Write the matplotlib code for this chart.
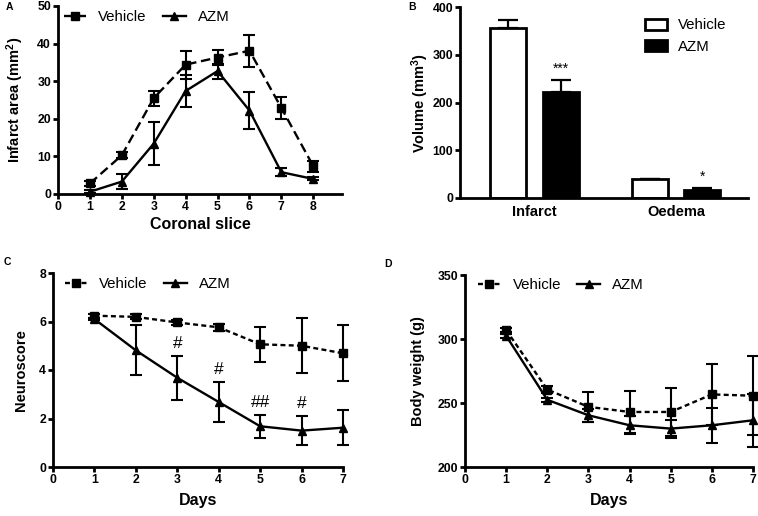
import matplotlib
matplotlib.use("Agg")
import matplotlib.pyplot as plt
import numpy as np

plt.rcParams['font.family'] = ['Liberation Sans', 'DejaVu Sans']
plt.rcParams['mathtext.fontset'] = 'custom'
plt.rcParams['mathtext.rm'] = 'Liberation Sans:bold'
plt.rcParams['mathtext.default'] = 'rm'

# ---------------- Data ----------------
# Panel A: infarct area per coronal slice
slices = [1, 2, 3, 4, 5, 6, 7, 8]
a_vehicle = [2.8, 10.3, 25.5, 34.4, 36.3, 38.1, 22.9, 7.4]
a_vehicle_err = [0.6, 0.8, 2.0, 3.7, 2.1, 4.2, 3.0, 1.5]
a_azm = [0.6, 3.3, 13.4, 27.4, 32.7, 22.2, 5.8, 4.0]
a_azm_err = [0.4, 1.9, 5.8, 4.2, 2.0, 4.8, 1.0, 0.4]

# Panel B: volumes
b_categories = ['Infarct', 'Oedema']
b_vehicle = [357, 39]
b_vehicle_err = [16, 1]
b_azm = [221, 17]
b_azm_err = [27, 4]
b_signif = ['***', '*']

# Panel C: neuroscore
days = [1, 2, 3, 4, 5, 6, 7]
c_vehicle = [6.24, 6.19, 5.96, 5.76, 5.06, 5.0, 4.69]
c_vehicle_err = [0.08, 0.1, 0.1, 0.15, 0.72, 1.14, 1.16]
c_azm = [6.1, 4.81, 3.68, 2.68, 1.68, 1.5, 1.62]
c_azm_err = [0.05, 1.03, 0.9, 0.83, 0.48, 0.6, 0.72]
c_hash_days = [3, 4, 5, 6]
c_hash_labels = ['#', '#', '##', '#']

# Panel D: body weight
d_vehicle = [307, 260.5, 247, 243, 243, 256.7, 255.7]
d_vehicle_err = [1.5, 2.5, 11.5, 16.5, 19, 24, 31]
d_azm = [302.5, 252.5, 240.4, 232.6, 230, 232.6, 236.5]
d_azm_err = [1.5, 1.5, 5, 7.2, 7, 13.7, 20.7]

# ---------------- Style ----------------
LW = 1.7
SPW = 2.0
TICK_FS = 8.8
YLAB_FS = 10.5
XLAB_FS = 11.5
LEG_FS = 10.8

fig = plt.figure(figsize=(7.58, 5.16), dpi=100)
W, H = 758, 516


def add_ax(l, r, t, b):
    return fig.add_axes([l / W, (H - b) / H, (r - l) / W, (b - t) / H])


def style(ax):
    for s in ['top', 'right']:
        ax.spines[s].set_visible(False)
    for s in ['left', 'bottom']:
        ax.spines[s].set_linewidth(SPW)
    ax.tick_params(width=SPW, length=3.5, labelsize=TICK_FS, pad=1.5)
    for lbl in ax.get_xticklabels() + ax.get_yticklabels():
        lbl.set_fontweight('bold')


def unclip(container):
    for art in container.get_children():
        art.set_clip_on(False)


def line_pair(ax, x, v, ve, a, ae, dashes):
    c1 = ax.errorbar(x, v, yerr=ve, color='black', lw=LW, dashes=dashes,
                     marker='s', ms=6.3, capsize=4, capthick=1.5, elinewidth=1.5,
                     label='Vehicle', zorder=3)
    c2 = ax.errorbar(x, a, yerr=ae, color='black', lw=LW, ls='-',
                     marker='^', ms=6.3, capsize=4, capthick=1.5, elinewidth=1.5,
                     label='AZM', zorder=3)
    unclip(c1)
    unclip(c2)


def line_legend(ax, x0, yc):
    h, l = ax.get_legend_handles_labels()
    h = [hh[0] for hh in h]
    ax.legend(h, l, ncol=2, frameon=False, loc='center left',
              bbox_to_anchor=(x0, yc), borderaxespad=0, borderpad=0,
              handlelength=1.5, handletextpad=0.8, columnspacing=1.1,
              fontsize=LEG_FS)


# ---------- Panel A ----------
axA = add_ax(58, 342, 6, 194)
line_pair(axA, slices, a_vehicle, a_vehicle_err, a_azm, a_azm_err, (4, 2))
axA.set_xlim(0, 8.9)
axA.set_ylim(0, 50)
axA.set_xticks(range(0, 9))
axA.set_yticks(range(0, 51, 10))
style(axA)
axA.set_xlabel('Coronal slice', fontsize=XLAB_FS, fontweight='bold', labelpad=3)
axA.set_ylabel('Infarct area (mm$^2$)', fontsize=YLAB_FS, fontweight='bold', labelpad=8)
line_legend(axA, 0.02, 0.94)

# ---------- Panel B ----------
axB = add_ax(460, 748, 7, 198)
xc = np.arange(len(b_categories))
off, bw = 0.187, 0.254
axB.bar(xc - off, b_vehicle, width=bw, color='white', edgecolor='black',
        linewidth=SPW, label='Vehicle', zorder=2)
axB.bar(xc + off, b_azm, width=bw, color='black', edgecolor='black',
        linewidth=SPW, label='AZM', zorder=2)
axB.errorbar(xc - off, b_vehicle, yerr=[np.zeros(2), b_vehicle_err], fmt='none',
             ecolor='black', elinewidth=1.6, capsize=7, capthick=1.6, zorder=1)
axB.errorbar(xc + off, b_azm, yerr=[np.zeros(2), b_azm_err], fmt='none',
             ecolor='black', elinewidth=1.6, capsize=7, capthick=1.6, zorder=1)
for xi, yi, ei, s in zip(xc + off, b_azm, b_azm_err, b_signif):
    axB.annotate(s, (xi, yi + ei), xytext=(0, 3), textcoords='offset points',
                 ha='center', va='bottom', fontsize=10)
axB.set_xlim(-0.527, 1.509)
axB.set_ylim(0, 400)
axB.set_yticks(range(0, 401, 100))
axB.set_xticks(xc)
axB.set_xticklabels(b_categories)
style(axB)
axB.tick_params(axis='x', length=0, pad=5, labelsize=10.5)
axB.set_ylabel('Volume (mm$^3$)', fontsize=YLAB_FS, fontweight='bold', labelpad=1)
axB.legend(frameon=False, loc='upper left', bbox_to_anchor=(0.642, 0.94),
           borderaxespad=0, borderpad=0, handlelength=1.5, handleheight=0.8,
           handletextpad=0.7, labelspacing=0.5, fontsize=LEG_FS)

# ---------- Panel C ----------
axC = add_ax(53, 343, 273, 467)
line_pair(axC, days, c_vehicle, c_vehicle_err, c_azm, c_azm_err, (2.1, 1.4))
for d, lab in zip(c_hash_days, c_hash_labels):
    i = days.index(d)
    axC.annotate(lab, (d, c_azm[i] + c_azm_err[i]), xytext=(0, 9),
                 textcoords='offset points', ha='center', va='center', fontsize=12.5)
axC.set_xlim(0, 7)
axC.set_ylim(0, 8)
axC.set_xticks(range(0, 8))
axC.set_yticks(range(0, 9, 2))
style(axC)
axC.set_xlabel('Days', fontsize=XLAB_FS, fontweight='bold', labelpad=5)
axC.set_ylabel('Neuroscore', fontsize=YLAB_FS, fontweight='bold', labelpad=8)
line_legend(axC, 0.04, 0.943)

# ---------- Panel D ----------
axD = add_ax(465, 753, 275, 467)
line_pair(axD, days, d_vehicle, d_vehicle_err, d_azm, d_azm_err, (2.1, 1.4))
axD.set_xlim(0, 7)
axD.set_ylim(200, 350)
axD.set_xticks(range(0, 8))
axD.set_yticks(range(200, 351, 50))
style(axD)
axD.set_xlabel('Days', fontsize=XLAB_FS, fontweight='bold', labelpad=5)
axD.set_ylabel('Body weight (g)', fontsize=YLAB_FS, fontweight='bold', labelpad=9)
line_legend(axD, 0.045, 0.948)

# Panel letters
for lab, (px, py) in zip(['A', 'B', 'C', 'D'], [(9, 7), (412, 7), (7, 262), (388, 264)]):
    fig.text(px / W, 1 - py / H, lab, fontsize=7.5, fontweight='bold',
             ha='center', va='center')

fig.savefig('out.png', dpi=100)
